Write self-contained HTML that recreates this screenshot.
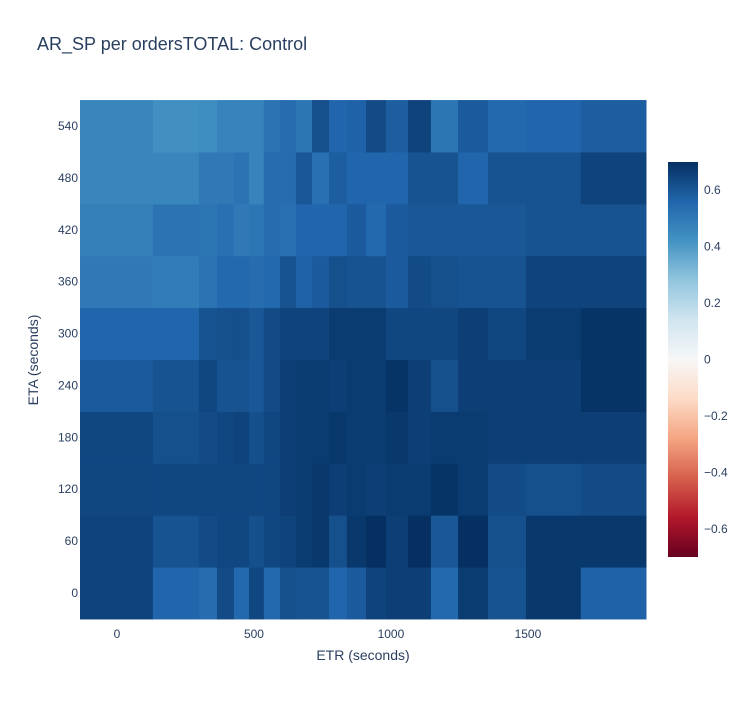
<!DOCTYPE html>
<html><head><meta charset="utf-8"><style>
body{margin:0;background:#fff;font-family:"Liberation Sans",Arial,sans-serif;}
svg text{font-family:"Liberation Sans",Arial,sans-serif;fill:#2a3f5f;}
</style></head><body>
<svg id="chart" width="750" height="700">
<rect width="750" height="700" fill="#fff"/>
<text x="37" y="50" font-size="18">AR_SP per ordersTOTAL: Control</text>
<g id="cells"></g>
<g id="xticks"></g>
<g id="yticks"></g>
<text x="363" y="660" font-size="14" text-anchor="middle">ETR (seconds)</text>
<text transform="translate(38,360) rotate(-90)" font-size="14" text-anchor="middle">ETA (seconds)</text>
<defs><linearGradient id="cg" x1="0" y1="1" x2="0" y2="0"></linearGradient></defs>
<rect x="668" y="162" width="30" height="395" fill="url(#cg)"/>
<g id="cticks"></g>
</svg>
<script>
const xEdges=[-135,131,299,365,427,482,536,595,653,712,774,839,909,982,1062,1146,1245,1354,1493,1693,1931];
const yValues=[0,60,120,180,240,300,360,420,480,540];
const xTicks=[0,500,1000,1500];
const yTicks=[0,60,120,180,240,300,360,420,480,540];
const cTicks=[-0.6,-0.4,-0.2,0,0.2,0.4,0.6];
const zRows=[
[0.65,0.56,0.54,0.63,0.55,0.64,0.55,0.62,0.61,0.61,0.56,0.59,0.65,0.66,0.66,0.55,0.67,0.61,0.68,0.57],
[0.65,0.61,0.63,0.64,0.64,0.62,0.64,0.65,0.67,0.68,0.62,0.68,0.70,0.66,0.70,0.60,0.71,0.62,0.68,0.68],
[0.64,0.64,0.64,0.64,0.64,0.64,0.64,0.66,0.67,0.68,0.66,0.67,0.66,0.67,0.67,0.69,0.67,0.63,0.62,0.63],
[0.64,0.62,0.63,0.64,0.65,0.62,0.64,0.66,0.67,0.67,0.68,0.67,0.67,0.68,0.66,0.67,0.67,0.66,0.66,0.66],
[0.59,0.61,0.64,0.61,0.61,0.60,0.63,0.66,0.67,0.67,0.66,0.67,0.67,0.69,0.66,0.62,0.66,0.66,0.66,0.69],
[0.56,0.56,0.61,0.62,0.62,0.60,0.63,0.65,0.65,0.65,0.67,0.67,0.67,0.64,0.64,0.64,0.66,0.64,0.67,0.69],
[0.50,0.49,0.52,0.55,0.55,0.54,0.55,0.61,0.57,0.59,0.62,0.61,0.61,0.59,0.63,0.62,0.61,0.61,0.65,0.65],
[0.48,0.52,0.51,0.53,0.50,0.51,0.54,0.53,0.56,0.56,0.56,0.59,0.55,0.59,0.60,0.60,0.60,0.60,0.61,0.61],
[0.46,0.46,0.50,0.50,0.52,0.47,0.54,0.54,0.60,0.53,0.58,0.56,0.56,0.56,0.61,0.61,0.56,0.61,0.61,0.65],
[0.46,0.43,0.44,0.47,0.47,0.47,0.52,0.54,0.51,0.62,0.56,0.57,0.63,0.58,0.65,0.51,0.59,0.55,0.56,0.58]
];
const zMin=-0.7,zMax=0.7;
const scale=[[103,0,31],[178,24,43],[214,96,77],[244,165,130],[253,219,199],[247,247,247],[209,229,240],[146,197,222],[67,147,195],[33,102,172],[5,48,97]];
const NS="http://www.w3.org/2000/svg";
const px0=80,px1=646,xd0=-135,xd1=1931;
const X=v=>px0+(v-xd0)*(px1-px0)/(xd1-xd0);
const Y=v=>593-(v)*(593-126)/540;
const rowH=(593-126)/9;
const CY=v=>557-(v-zMin)/(zMax-zMin)*395;
function color(z){let t=(z-zMin)/(zMax-zMin)*10;t=Math.max(0,Math.min(10,t));const i=Math.min(9,Math.floor(t)),f=t-i;const a=scale[i],b=scale[i+1];return `rgb(${a.map((c,k)=>Math.round(c+(b[k]-c)*f)).join(',')})`;}
const cells=document.getElementById('cells');
zRows.forEach((row,r)=>{row.forEach((z,c)=>{
 const el=document.createElementNS(NS,'rect');
 const x=X(xEdges[c]),w=X(xEdges[c+1])-x;
 el.setAttribute('x',x);el.setAttribute('y',Y(yValues[r])-rowH/2);
 el.setAttribute('width',w+0.5);el.setAttribute('height',rowH+0.5);
 el.setAttribute('fill',color(z));
 
 
 cells.appendChild(el);});});
const xt=document.getElementById('xticks');
xTicks.forEach(v=>{const t=document.createElementNS(NS,'text');t.setAttribute('x',X(v));t.setAttribute('y',638);t.setAttribute('font-size','12');t.setAttribute('text-anchor','middle');t.textContent=v;


xt.appendChild(t);});
const yt=document.getElementById('yticks');
yTicks.forEach(v=>{const t=document.createElementNS(NS,'text');t.setAttribute('x',78);t.setAttribute('y',Y(v)+4);t.setAttribute('font-size','12');t.setAttribute('text-anchor','end');t.textContent=v;


yt.appendChild(t);});
const g=document.getElementById('cg');
scale.forEach((c,i)=>{const s=document.createElementNS(NS,'stop');s.setAttribute('offset',i/10);s.setAttribute('stop-color',`rgb(${c.join(',')})`);g.appendChild(s);});
const ct=document.getElementById('cticks');
cTicks.forEach(v=>{const t=document.createElementNS(NS,'text');t.setAttribute('x',704);t.setAttribute('y',CY(v)+4);t.setAttribute('font-size','12');t.textContent=v===0?'0':(v<0?'−'+Math.abs(v):v);


ct.appendChild(t);});
</script>
</body></html>
